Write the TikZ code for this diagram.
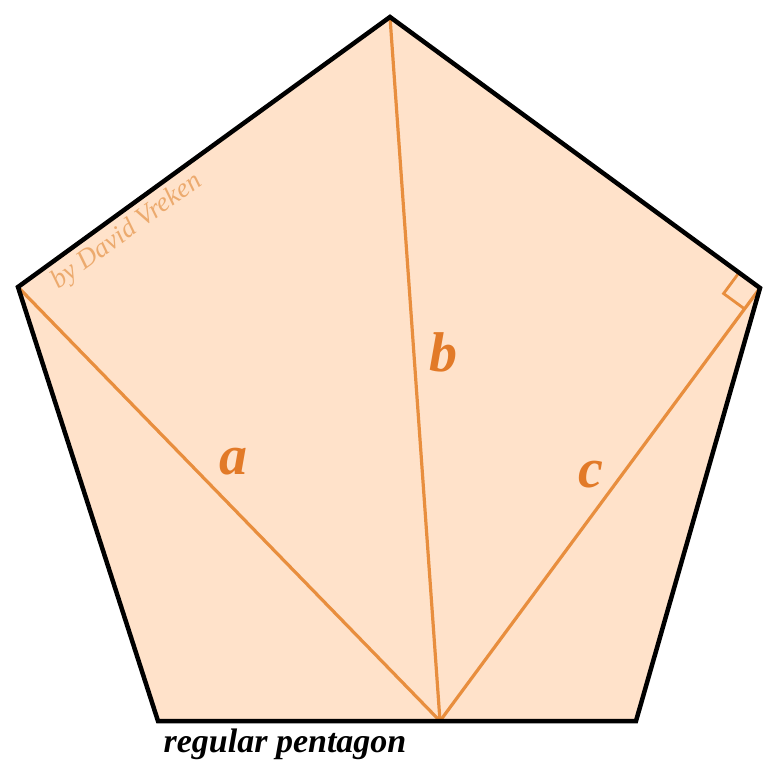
\documentclass[tikz,border=0pt]{standalone}
\usepackage{fontspec}
\setmainfont{Liberation Serif}
\usetikzlibrary{calc}
\definecolor{peach}{RGB}{255,226,202}
\definecolor{lineor}{RGB}{232,142,62}
\definecolor{labor}{RGB}{226,122,40}
\definecolor{markor}{RGB}{236,170,110}
\begin{document}
\begin{tikzpicture}[x=1pt,y=-1pt,
  edge/.style={line width=4.5pt,black,line join=miter},
  diag/.style={line width=3.2pt,lineor},
  lab/.style={text=labor,font=\fontsize{56}{56}\selectfont\bfseries\itshape}]
\useasboundingbox (0,0) rectangle (782,780);
\coordinate (T) at (390,17);
\coordinate (R) at (760,288);
\coordinate (BR) at (636,721);
\coordinate (BL) at (158,721);
\coordinate (L) at (18,287);
\coordinate (P) at (440,721);
\fill[peach] (T) -- (R) -- (BR) -- (BL) -- (L) -- cycle;
\draw[diag] (P) -- (L);
\draw[diag] (P) -- (T);
\draw[diag] (P) -- (R);
% right angle mark
\coordinate (m1) at ($(R)!26pt!(T)$);
\coordinate (m2) at ($(R)!26pt!(P)$);
\draw[line width=2.8pt,lineor] (m1) -- ($(m1)+(m2)-(R)$) -- (m2);
\draw[edge] (T) -- (R) -- (BR) -- (BL) -- (L) -- cycle;
\node[lab] (la) at (233,462) {a};
\node[lab] (lb) at (443,352) {b};
\node[lab] (lc) at (591,475) {c};
\node[text=markor,font=\fontsize{27}{27}\selectfont\itshape,rotate=36] (wm) at (127,232) {by David Vreken};
\node[font=\fontsize{34}{34}\selectfont\bfseries\itshape] (cap) at (285,744) {regular pentagon};
\end{tikzpicture}
\end{document}
